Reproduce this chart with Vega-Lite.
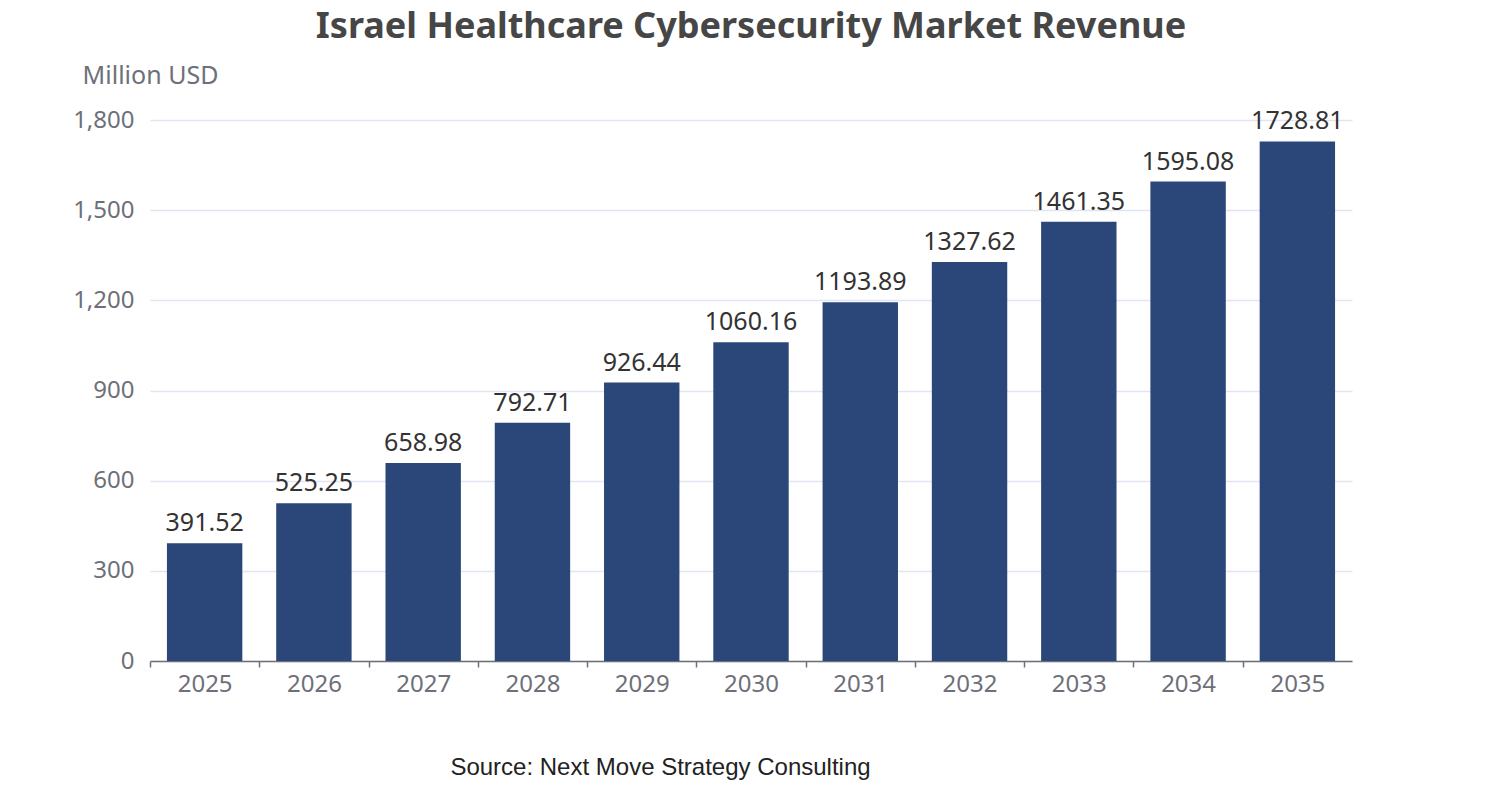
{
  "$schema": "https://vega.github.io/schema/vega-lite/v6.json",
  "width": 1202,
  "height": 541,
  "autosize": {"type": "none"},
  "padding": {"left": 150, "top": 120, "right": 150, "bottom": 139},
  "background": "#ffffff",
  "title": {
    "text": "Israel Healthcare Cybersecurity Market Revenue",
    "anchor": "middle",
    "frame": "group",
    "font": "Noto Sans",
    "fontSize": 36,
    "fontWeight": "bold",
    "color": "#464646",
    "offset": 17
  },
  "config": {
    "view": {"stroke": null},
    "font": "Noto Sans"
  },
  "data": {
    "values": [
      {"year": "2025", "revenue": 391.52},
      {"year": "2026", "revenue": 525.25},
      {"year": "2027", "revenue": 658.98},
      {"year": "2028", "revenue": 792.71},
      {"year": "2029", "revenue": 926.44},
      {"year": "2030", "revenue": 1060.16},
      {"year": "2031", "revenue": 1193.89},
      {"year": "2032", "revenue": 1327.62},
      {"year": "2033", "revenue": 1461.35},
      {"year": "2034", "revenue": 1595.08},
      {"year": "2035", "revenue": 1728.81}
    ]
  },
  "encoding": {
    "x": {
      "field": "year",
      "type": "ordinal",
      "scale": {"paddingInner": 0.31, "paddingOuter": 0.155},
      "axis": {
        "title": "Source: Next Move Strategy Consulting",
        "titleFont": "Liberation Sans",
        "titleFontSize": 24,
        "titleFontWeight": "normal",
        "titleColor": "#222222",
        "titleX": 510,
        "titleY": 106,
        "titleAlign": "center",
        "titleBaseline": "middle",
        "labelAngle": 0,
        "labelFontSize": 24,
        "labelColor": "#6e7079",
        "labelPadding": 5,
        "tickOffset": -54.64,
        "labelOffset": 54.64,
        "domainColor": "#6e7079",
        "domainWidth": 1.5,
        "tickColor": "#6e7079",
        "tickWidth": 1.5,
        "tickSize": 6,
        "grid": false
      }
    },
    "y": {
      "field": "revenue",
      "type": "quantitative",
      "scale": {"domain": [0, 1800], "nice": false},
      "axis": {
        "title": "Million USD",
        "titleAngle": 0,
        "titleX": 0,
        "titleY": -45,
        "titleAlign": "center",
        "titleBaseline": "middle",
        "titleFontSize": 25,
        "titleFontWeight": "normal",
        "titleColor": "#6e7079",
        "values": [0, 300, 600, 900, 1200, 1500, 1800],
        "format": ",d",
        "labelFontSize": 24,
        "labelColor": "#6e7079",
        "labelPadding": 16,
        "domain": false,
        "ticks": false,
        "grid": true,
        "gridColor": "#e0e6f1",
        "gridWidth": 1.5
      }
    }
  },
  "layer": [
    {"mark": {"type": "bar", "color": "#2b4679"}},
    {
      "mark": {
        "type": "text",
        "baseline": "alphabetic",
        "dy": -12,
        "fontSize": 25,
        "color": "#333333",
        "font": "Noto Sans"
      },
      "encoding": {
        "text": {"field": "revenue", "type": "quantitative", "format": ".2f"}
      }
    }
  ]
}
